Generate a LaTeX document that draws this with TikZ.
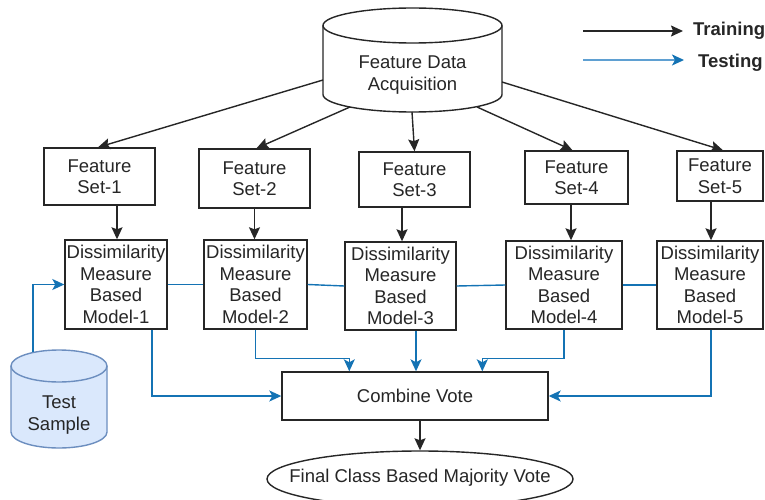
\documentclass[tikz,border=0pt]{standalone}
\usepackage{fontspec}
\setmainfont{Liberation Sans}
\usetikzlibrary{arrows.meta,calc,shapes.geometric}
\definecolor{tblue}{RGB}{20,115,180}
\definecolor{lblue}{RGB}{95,160,210}
\definecolor{tsfill}{RGB}{218,232,252}
\definecolor{tsdraw}{RGB}{108,142,191}
\begin{document}
\begin{tikzpicture}[x=1pt,y=-1pt,
  every node/.style={font=\fontsize{18.5}{21.5}\selectfont, text=black!85},
  box/.style={draw=black!85, line width=1.4pt, fill=white, inner sep=0pt, align=center},
  blk/.style={draw=black!85, line width=1.4pt, -{Stealth[length=12pt,width=11pt,inset=2pt]}},
  blu/.style={draw=tblue, line width=1.4pt},
  bla/.style={blu, -{Stealth[length=12pt,width=11pt,inset=3pt]}},
  lbl/.style={font=\fontsize{18.5}{21.5}\selectfont\bfseries, inner sep=0pt, anchor=west}
]
\useasboundingbox (0,0) rectangle (765,500);
\clip (0,0) rectangle (765,500);

% Feature Data Acquisition cylinder
\fill[white] (323,25.5) -- (323,94.5) arc[start angle=180,end angle=0,x radius=89.5,y radius=17.5] -- (502,25.5) arc[start angle=0,end angle=-180,x radius=89.5,y radius=17.5] -- cycle;
\draw[line width=1.4pt, black!85] (323,25.5) -- (323,94.5) arc[start angle=180,end angle=0,x radius=89.5,y radius=17.5] -- (502,25.5);
\draw[line width=1.4pt, black!85] (412.5,25.5) ellipse[x radius=89.5,y radius=17.5];
\node[inner sep=0pt, minimum width=179pt, minimum height=104pt, align=center] (fda) at (412.5,60) {};
\node[align=center, inner sep=0pt] (fdatext) at (412.5,75) {Feature Data\\Acquisition};

% Test Sample cylinder
\fill[tsfill] (11,366) -- (11,432) arc[start angle=180,end angle=0,x radius=48,y radius=16] -- (107,366) arc[start angle=0,end angle=-180,x radius=48,y radius=16] -- cycle;
\draw[line width=1.4pt, tsdraw] (11,366) -- (11,432) arc[start angle=180,end angle=0,x radius=48,y radius=16] -- (107,366);
\draw[line width=1.4pt, tsdraw] (59,366) ellipse[x radius=48,y radius=16];
\node[inner sep=0pt, minimum width=96pt, minimum height=98pt] (ts) at (59,399) {};
\node[align=center, inner sep=0pt] (tstext) at (59,415) {Test\\Sample};

% Feature sets
\node[box, minimum width=111pt, minimum height=57pt] (fs1) at (99.5,176.5) {Feature\\Set-1};
\node[box, minimum width=111pt, minimum height=59pt] (fs2) at (254.5,178.5) {Feature\\Set-2};
\node[box, minimum width=111pt, minimum height=55pt] (fs3) at (414.5,179.5) {Feature\\Set-3};
\node[box, minimum width=103pt, minimum height=53pt] (fs4) at (576.5,177.5) {Feature\\Set-4};
\node[box, minimum width=86pt, minimum height=50pt] (fs5) at (720,176) {Feature\\Set-5};

% Models
\node[box, minimum width=102pt, minimum height=89pt] (m1) at (116,284.5) {Dissimilarity\\Measure\\Based\\Model-1};
\node[box, minimum width=103pt, minimum height=89pt] (m2) at (255.5,284.5) {Dissimilarity\\Measure\\Based\\Model-2};
\node[box, minimum width=111pt, minimum height=88pt] (m3) at (400.5,286) {Dissimilarity\\Measure\\Based\\Model-3};
\node[box, minimum width=116pt, minimum height=88pt] (m4) at (564,285) {Dissimilarity\\Measure\\Based\\Model-4};
\node[box, minimum width=106pt, minimum height=88pt] (m5) at (710,285) {Dissimilarity\\Measure\\Based\\Model-5};

% Combine vote and final
\node[box, minimum width=266pt, minimum height=48pt] (cv) at (415,396) {Combine Vote};
\node[draw=black!85, line width=1.4pt, ellipse, minimum width=306pt, minimum height=56pt, inner sep=0pt] (fin) at (420,479) {};
\node[inner sep=0pt] (fintext) at (420,478) {Final Class Based Majority Vote};

% Legend
\node[lbl] (train) at (693,31) {Training};
\node[lbl] (test) at (698,63) {Testing};
\coordinate (lg1) at (583,31);
\coordinate (lg2) at (583,60);
\draw[blk] (lg1) -- ($(train.west)+(-10,0)$);
\draw[draw=lblue, line width=1.6pt, -{Stealth[length=12pt,width=11pt,inset=3pt,color=tblue]}] (lg2) -- ($(test.west)+(-14,-3)$);

% FDA to feature sets
\coordinate (c1) at (323,80);
\coordinate (c2) at (350,107);
\coordinate (c3) at (412,112);
\coordinate (c4) at (477,107);
\coordinate (c5) at (502,82);
\draw[blk] (c1) -- ($(fs1.north)+(-1.5,0)$);
\draw[blk] (c2) -- ($(fs2.north)+(2,0)$);
\draw[blk] (c3) -- (fs3.north);
\draw[blk] (c4) -- ($(fs4.north)+(-4,0)$);
\draw[blk] (c5) -- ($(fs5.north)+(3,0)$);

% Feature sets to models
\draw[blk] ($(fs1.south)+(17.5,0)$) -- ($(fs1.south |- m1.north)+(17.5,0)$);
\draw[blk] (fs2.south) -- (fs2.south |- m2.north);
\draw[blk] ($(fs3.south)+(-12.5,0)$) -- ($(fs3.south |- m3.north)+(-12.5,0)$);
\draw[blk] ($(fs4.south)+(-5.5,0)$) -- ($(fs4.south |- m4.north)+(-5.5,0)$);
\draw[blk] ($(fs5.south)+(-9,0)$) -- ($(fs5.south |- m5.north)+(-9,0)$);

% Blue links between models
\draw[blu] (m1.east) -- (m2.west);
\draw[blu] (m2.east) -- (m3.west);
\draw[blu] (m3.east) -- (m4.west);
\draw[blu] (m4.east) -- (m5.west);

% Test sample to model 1
\coordinate (tsp) at (33,352);
\draw[bla] (tsp) |- (m1.west);

% Models to combine vote
\draw[bla] ($(m1.south)+(36,0)$) |- (cv.west);
\draw[bla] (m2.south) -- ++(0,29) -| ($(cv.north west)+(68,0)$);
\draw[bla] ($(m3.south)+(15.5,0)$) -- ($(m3.south |- cv.north)+(15.5,0)$);
\draw[bla] (m4.south) -- ++(0,29) -| ($(cv.north west)+(201,0)$);
\draw[bla] ($(m5.south)+(1,0)$) |- (cv.east);

% Combine to final
\draw[blk] (cv.south -| fin.north) -- (fin.north);
\end{tikzpicture}
\end{document}
